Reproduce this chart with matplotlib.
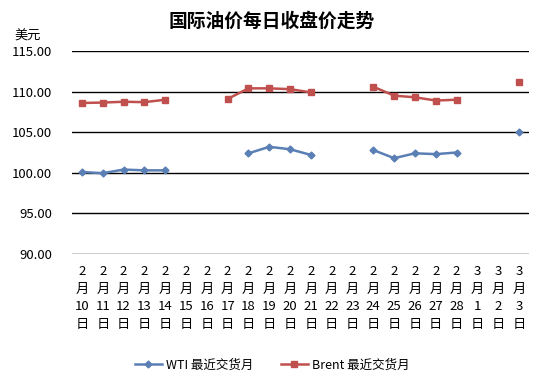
import matplotlib
matplotlib.use("Agg")
import matplotlib.pyplot as plt
import numpy as np

plt.rcParams["font.family"] = ["Noto Sans CJK SC", "DejaVu Sans"]

DAYS = ["2月10日", "2月11日", "2月12日", "2月13日", "2月14日", "2月15日", "2月16日",
        "2月17日", "2月18日", "2月19日", "2月20日", "2月21日", "2月22日", "2月23日",
        "2月24日", "2月25日", "2月26日", "2月27日", "2月28日", "3月1日", "3月2日", "3月3日"]
TICK_LABELS = ["2\n月\n10\n日", "2\n月\n11\n日", "2\n月\n12\n日", "2\n月\n13\n日", "2\n月\n14\n日",
               "2\n月\n15\n日", "2\n月\n16\n日", "2\n月\n17\n日", "2\n月\n18\n日", "2\n月\n19\n日",
               "2\n月\n20\n日", "2\n月\n21\n日", "2\n月\n22\n日", "2\n月\n23\n日", "2\n月\n24\n日",
               "2\n月\n25\n日", "2\n月\n26\n日", "2\n月\n27\n日", "2\n月\n28\n日", "3\n月\n1\n日",
               "3\n月\n2\n日", "3\n月\n3\n日"]
nan = np.nan
WTI = [100.10, 99.95, 100.40, 100.30, 100.30, nan, nan,
       nan, 102.40, 103.20, 102.90, 102.20, nan, nan,
       102.80, 101.80, 102.40, 102.30, 102.50, nan, nan, 105.00]
BRENT = [108.60, 108.65, 108.75, 108.70, 109.00, nan, nan,
         109.10, 110.40, 110.40, 110.30, 109.90, nan, nan,
         110.60, 109.50, 109.30, 108.90, 109.00, nan, nan, 111.20]

fig = plt.figure(figsize=(5.44, 3.84), dpi=100)
ax = fig.add_axes([71.6 / 544, 1 - 254 / 384, (529.4 - 71.6) / 544, (254 - 51) / 384])

x = np.arange(len(DAYS))
ax.plot(x, WTI, color="#5a7fb5", linewidth=1.8, marker="D", markersize=3.5,
        label="WTI 最近交货月")
ax.plot(x, BRENT, color="#c0504d", linewidth=1.8, marker="s", markersize=5,
        label="Brent 最近交货月")

ax.set_xlim(-0.5, len(DAYS) - 0.5)
ax.set_ylim(90, 115)
ax.set_yticks(np.arange(90, 116, 5))
ax.set_yticklabels([f"{v:.2f}" for v in np.arange(90, 116, 5)], fontsize=9.5)
ax.set_xticks(x)
ax.set_xticklabels(TICK_LABELS, fontsize=9.5, linespacing=1.45)
ax.tick_params(length=0, pad=8)
ax.tick_params(axis="y", pad=14)
ax.grid(axis="y", color="black", linewidth=1)
ax.set_axisbelow(True)
for s in ax.spines.values():
    s.set_visible(False)

fig.text(0.5, 1 - 21 / 384, "国际油价每日收盘价走势", ha="center", va="center",
         fontsize=13.5, fontweight="bold")
fig.text(14 / 544, 1 - 36 / 384, "美元", ha="left", va="center", fontsize=9.5)

fig.legend(loc="center", bbox_to_anchor=(272 / 544, 1 - 365 / 384), ncol=2,
           frameon=False, fontsize=9, handlelength=2.2, handletextpad=0.3,
           columnspacing=2.2)

fig.savefig("out.png", dpi=100)
